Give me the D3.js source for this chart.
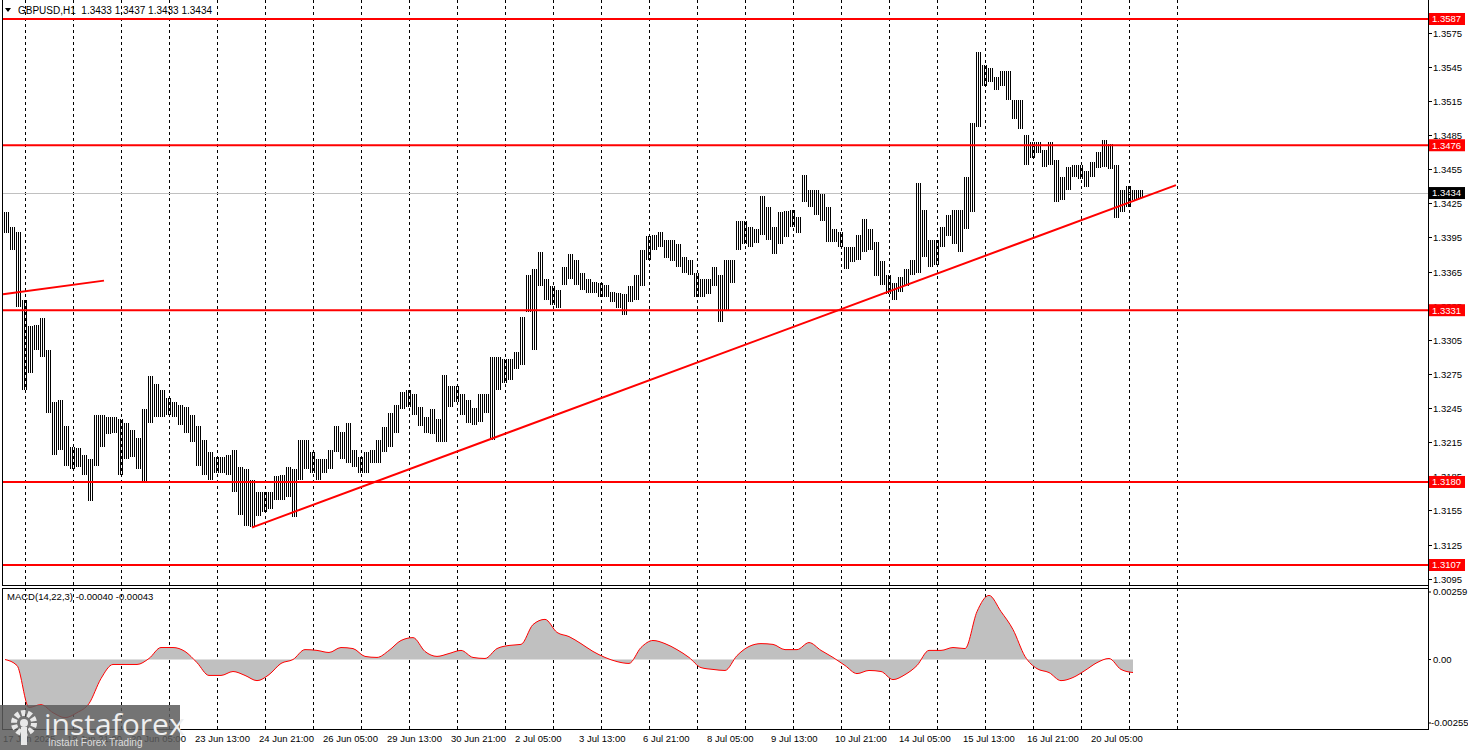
<!DOCTYPE html>
<html><head><meta charset="utf-8">
<script src="https://cdn.jsdelivr.net/npm/d3@7"></script>
<style>
html,body{margin:0;padding:0;background:#fff;}
svg{display:block;font-family:'Liberation Sans',Arial,sans-serif;}
</style>
</head><body>
<svg id="chart" width="1468" height="750"></svg>
<script>
// ---------- DATA (3-hour columns of GBPUSD H1) ----------
const highs = [1.3417,1.3404,1.3400,1.3340,1.3317,1.3318,1.3324,1.3296,1.3250,1.3252,
1.3229,1.3211,1.3210,1.3204,1.3200,1.3239,1.3239,1.3237,1.3237,1.3235,
1.3232,1.3226,1.3219,1.3244,1.3273,1.3266,1.3261,1.3254,1.3250,1.3248,
1.3246,1.3239,1.3229,1.3217,1.3206,1.3202,1.3202,1.3204,1.3208,1.3193,
1.3191,1.3182,1.3171,1.3171,1.3171,1.3185,1.3186,1.3193,1.3191,1.3217,
1.3217,1.3206,1.3200,1.3200,1.3208,1.3229,1.3224,1.3232,1.3208,1.3202,
1.3206,1.3208,1.3217,1.3228,1.3241,1.3248,1.3259,1.3261,1.3257,1.3246,
1.3237,1.3244,1.3235,1.3274,1.3264,1.3264,1.3257,1.3252,1.3245,1.3257,
1.3257,1.3290,1.3290,1.3288,1.3288,1.3294,1.3325,1.3362,1.3367,1.3382,
1.3358,1.3352,1.3349,1.3369,1.3380,1.3375,1.3364,1.3358,1.3356,1.3355,
1.3353,1.3347,1.3346,1.3345,1.3352,1.3362,1.3384,1.3396,1.3397,1.3400,
1.3393,1.3393,1.3389,1.3378,1.3375,1.3364,1.3358,1.3358,1.3369,1.3362,
1.3375,1.3375,1.3409,1.3409,1.3404,1.3402,1.3431,1.3422,1.3404,1.3417,
1.3418,1.3419,1.3413,1.3450,1.3437,1.3437,1.3433,1.3422,1.3402,1.3400,
1.3387,1.3387,1.3397,1.3411,1.3402,1.3391,1.3374,1.3362,1.3355,1.3360,
1.3367,1.3375,1.3443,1.3419,1.3393,1.3393,1.3404,1.3415,1.3419,1.3419,
1.3448,1.3496,1.3558,1.3547,1.3544,1.3536,1.3541,1.3541,1.3516,1.3516,
1.3485,1.3479,1.3479,1.3472,1.3479,1.3463,1.3448,1.3457,1.3459,1.3459,
1.3453,1.3461,1.3470,1.3481,1.3477,1.3459,1.3437,1.3440,1.3437,1.3437];

const lows = [1.3399,1.3384,1.3334,1.3261,1.3276,1.3296,1.3290,1.3241,1.3204,1.3208,
1.3194,1.3191,1.3193,1.3186,1.3163,1.3194,1.3211,1.3222,1.3223,1.3186,
1.3200,1.3202,1.3191,1.3180,1.3232,1.3237,1.3237,1.3239,1.3237,1.3230,
1.3223,1.3215,1.3194,1.3186,1.3182,1.3188,1.3188,1.3186,1.3171,1.3151,
1.3141,1.3140,1.3150,1.3154,1.3156,1.3164,1.3164,1.3167,1.3149,1.3182,
1.3191,1.3188,1.3182,1.3188,1.3191,1.3206,1.3200,1.3197,1.3193,1.3188,
1.3188,1.3197,1.3197,1.3206,1.3211,1.3223,1.3244,1.3246,1.3239,1.3229,
1.3223,1.3222,1.3215,1.3215,1.3246,1.3250,1.3239,1.3232,1.3230,1.3233,
1.3241,1.3217,1.3261,1.3267,1.3270,1.3279,1.3283,1.3329,1.3296,1.3352,
1.3340,1.3336,1.3333,1.3353,1.3358,1.3353,1.3349,1.3346,1.3346,1.3343,
1.3343,1.3338,1.3333,1.3327,1.3338,1.3340,1.3352,1.3375,1.3384,1.3387,
1.3377,1.3374,1.3369,1.3364,1.3362,1.3343,1.3343,1.3345,1.3352,1.3321,
1.3331,1.3355,1.3384,1.3389,1.3387,1.3390,1.3397,1.3393,1.3380,1.3389,
1.3395,1.3404,1.3399,1.3426,1.3422,1.3415,1.3409,1.3391,1.3391,1.3387,
1.3367,1.3373,1.3375,1.3382,1.3384,1.3361,1.3353,1.3345,1.3340,1.3347,
1.3352,1.3362,1.3364,1.3378,1.3369,1.3371,1.3387,1.3396,1.3389,1.3382,
1.3402,1.3417,1.3492,1.3528,1.3532,1.3525,1.3528,1.3516,1.3499,1.3490,
1.3459,1.3465,1.3469,1.3457,1.3459,1.3426,1.3428,1.3437,1.3448,1.3446,
1.3439,1.3448,1.3456,1.3457,1.3455,1.3412,1.3417,1.3422,1.3428,1.3430];

// MACD(14,22,3) main values, one per 6 hours
const macdValues = [0,-0.00023,-0.00184,-0.00173,-0.00204,-0.00223,-0.00204,-0.00169,-0.00073,-0.00019,
-0.00019,-0.00019,0.00004,0.00046,0.00046,0.00031,-0.00012,-0.00061,-0.00061,-0.00046,
-0.00061,-0.00081,-0.00058,-0.00015,0,0.00038,0.00035,0.00027,0.00046,0.00042,
0.00012,0.00008,0.00035,0.00073,0.00084,0.00031,0.00012,0.00023,0.00035,0.00008,
0.00004,0.00042,0.00054,0.00058,0.00134,0.00154,0.00104,0.00088,0.00061,0.00031,
0.00008,-0.00008,-0.00015,0.00046,0.00073,0.00061,0.00038,0.00008,-0.00031,-0.00038,
-0.00042,0.00015,0.00050,0.00061,0.00058,0.00038,0.00038,0.00065,0.00035,0.00008,
-0.00023,-0.00054,-0.00042,-0.00046,-0.00077,-0.00058,-0.00023,0.00035,0.00035,0.00046,
0.00042,0.00184,0.00246,0.00184,0.00115,0.00012,-0.00035,-0.00050,-0.00081,-0.00069,
-0.00042,-0.00012,0.00004,-0.00038,-0.00050];

const levels = [1.3587, 1.3476, 1.3331, 1.3180, 1.3107];
const lastPrice = 1.3434;
const priceTicks = [1.3575,1.3545,1.3515,1.3485,1.3455,1.3425,1.3395,1.3365,1.3335,1.3305,1.3275,1.3245,1.3215,1.3185,1.3155,1.3125,1.3095];
const macdTicks = [0.00259, 0.00, -0.00255];
const timeLabels = ["17 Jun 2025","18 Jun 21:00","20 Jun 05:00","23 Jun 13:00","24 Jun 21:00","26 Jun 05:00","29 Jun 13:00","30 Jun 21:00","2 Jul 05:00","3 Jul 13:00","6 Jul 21:00","8 Jul 05:00","9 Jul 13:00","10 Jul 21:00","14 Jul 05:00","15 Jul 13:00","16 Jul 21:00","20 Jul 05:00"];
// trend lines: bar-hour index and price at each end
const trendHours = [124.5, 586.5];
const trendPrices = [1.3140, 1.3441];
const trend2Hours = [0, 50.5];
const trend2Prices = [1.3345, 1.3357];
const headerText = "GBPUSD,H1  1.3433 1.3437 1.3433 1.3434";
const macdText = "MACD(14,22,3) -0.00040 -0.00043";

// ---------- DRAW ----------
const svg = d3.select("#chart");
const RED = "#ff0000";
const L = 2, R = 1428, mainBottom = 585, macdTop = 588, macdBottom = 729;

const x = d3.scaleLinear().domain([0, 570]).range([3, 1143]);   // hour index -> px
const y = d3.scaleLinear().domain([1.3107, 1.3587]).range([565, 19]);
const ym = d3.scaleLinear().domain([-0.00255, 0.00259]).range([726, 592]);

// stripe pattern: one 1px bar every 2px, like hourly bars
const defs = svg.append("defs");
const pat = defs.append("pattern").attr("id", "bars").attr("patternUnits", "userSpaceOnUse")
  .attr("width", 2).attr("height", 4);
pat.append("rect").attr("x", 0).attr("y", 0).attr("width", 1).attr("height", 4).attr("fill", "#000");

// vertical dashed grid (every 24 bars)
const gridHours = d3.range(11, 590, 24);
[[0, mainBottom], [macdTop, macdBottom]].forEach(([a, b]) => {
  svg.append("g").selectAll("line").data(gridHours).join("line")
    .attr("x1", d => Math.round(x(d)) + 0.5).attr("x2", d => Math.round(x(d)) + 0.5)
    .attr("y1", a).attr("y2", b)
    .attr("stroke", "#000").attr("stroke-width", 1).attr("stroke-dasharray", "3,3");
});

// current price line
svg.append("line").attr("x1", L).attr("x2", R)
  .attr("y1", Math.round(y(lastPrice)) + 0.5).attr("y2", Math.round(y(lastPrice)) + 0.5)
  .attr("stroke", "#c0c0c0").attr("stroke-width", 1);

// price bars (each 3-hour column shown as three 1px hour bars)
svg.append("g").selectAll("rect").data(highs).join("rect")
  .attr("x", (d, i) => Math.round(x(3 * i)))
  .attr("width", (d, i) => Math.round(x(3 * i + 3)) - Math.round(x(3 * i)))
  .attr("y", d => Math.round(y(d)))
  .attr("height", (d, i) => Math.max(2, Math.round(y(lows[i])) - Math.round(y(d))))
  .attr("fill", "url(#bars)").attr("shape-rendering", "crispEdges");

// horizontal levels
svg.append("g").selectAll("line").data(levels).join("line")
  .attr("x1", L).attr("x2", R).attr("y1", d => y(d)).attr("y2", d => y(d))
  .attr("stroke", RED).attr("stroke-width", 2);

// trend lines
const tl = d3.line().x(d => x(d[0])).y(d => y(d[1]));
svg.append("path").attr("d", tl(d3.zip(trendHours, trendPrices)))
  .attr("stroke", RED).attr("stroke-width", 2).attr("fill", "none");
svg.append("path").attr("d", tl(d3.zip(trend2Hours, trend2Prices)))
  .attr("stroke", RED).attr("stroke-width", 2).attr("fill", "none");

// MACD histogram area + signal line
const mx = (d, i) => x(6 * i + 1);
svg.append("path").datum(macdValues)
  .attr("d", d3.area().x(mx).y0(ym(0)).y1(d => ym(d)).curve(d3.curveMonotoneX))
  .attr("fill", "#c0c0c0");
svg.append("path").datum(macdValues)
  .attr("d", d3.line().x(mx).y(d => ym(d)).curve(d3.curveMonotoneX))
  .attr("fill", "none").attr("stroke", RED).attr("stroke-width", 1);

// frames
const frame = svg.append("g").attr("stroke", "#000").attr("stroke-width", 1).attr("shape-rendering", "crispEdges");
frame.append("line").attr("x1", L + 0.5).attr("x2", L + 0.5).attr("y1", 0).attr("y2", mainBottom);
frame.append("line").attr("x1", R + 0.5).attr("x2", R + 0.5).attr("y1", 0).attr("y2", macdBottom);
frame.append("line").attr("x1", L).attr("x2", R).attr("y1", mainBottom + 0.5).attr("y2", mainBottom + 0.5);
frame.append("line").attr("x1", L).attr("x2", R).attr("y1", macdTop + 0.5).attr("y2", macdTop + 0.5);
frame.append("line").attr("x1", L + 0.5).attr("x2", L + 0.5).attr("y1", macdTop).attr("y2", macdBottom);
frame.append("line").attr("x1", L).attr("x2", R + 1).attr("y1", macdBottom + 0.5).attr("y2", macdBottom + 0.5);

// price axis ticks
const axisFont = 9.5;
const pt = svg.append("g").selectAll("g").data(priceTicks).join("g")
  .attr("transform", d => `translate(0,${Math.round(y(d)) + 0.5})`);
pt.append("line").attr("x1", R).attr("x2", R + 4).attr("stroke", "#000");
pt.append("text").attr("x", R + 5).attr("dy", "0.35em").attr("font-size", axisFont)
  .attr("fill", "#000").text(d => d.toFixed(4));

// level labels
const lv = svg.append("g").selectAll("g").data(levels).join("g")
  .attr("transform", d => `translate(0,${y(d)})`);
lv.append("rect").attr("x", R + 1).attr("y", -6).attr("width", 36).attr("height", 12).attr("fill", RED);
lv.append("text").attr("x", R + 4).attr("dy", "0.35em").attr("font-size", axisFont)
  .attr("fill", "#fff").text(d => d.toFixed(4));
// last price label
const lp = svg.append("g").attr("transform", `translate(0,${y(lastPrice)})`);
lp.append("rect").attr("x", R + 1).attr("y", -6).attr("width", 36).attr("height", 12).attr("fill", "#000");
lp.append("text").attr("x", R + 4).attr("dy", "0.35em").attr("font-size", axisFont)
  .attr("fill", "#fff").text(lastPrice.toFixed(4));

// MACD axis
const mt = svg.append("g").selectAll("g").data(macdTicks).join("g")
  .attr("transform", d => `translate(0,${Math.min(ym(d), 723)})`);
mt.append("line").attr("x1", R).attr("x2", R + 3).attr("stroke", "#000");
mt.append("text").attr("x", d => d < 0 ? R + 3 : R + 5).attr("dy", "0.35em").attr("font-size", axisFont)
  .attr("fill", "#000").text(d => d === 0 ? "0.00" : d.toFixed(5));

// time labels (every 32 bars)
svg.append("g").selectAll("text").data(timeLabels).join("text")
  .attr("x", (d, i) => x(32 * i)).attr("y", 742)
  .attr("font-size", axisFont).attr("fill", "#000").text(d => d);

// headers
svg.append("path").attr("d", "M5,8 L11,8 L8,12 Z").attr("fill", "#000");
svg.append("text").attr("x", 18).attr("y", 14).attr("font-size", 10).attr("fill", "#000")
  .attr("xml:space", "preserve").style("white-space", "pre").text(headerText);
svg.append("text").attr("x", 7).attr("y", 600).attr("font-size", 9.5).attr("fill", "#000").text(macdText);

// watermark logo
const logo = svg.append("g");
logo.append("rect").attr("x", 0).attr("y", 705).attr("width", 180).attr("height", 45)
  .attr("fill", "#5c5c5c").attr("opacity", 0.85);
logo.append("circle").attr("cx", 24).attr("cy", 723).attr("r", 10)
  .attr("fill", "none").attr("stroke", "#e8e8e8").attr("stroke-width", 6).attr("stroke-dasharray", "4,2.3");
logo.append("circle").attr("cx", 24).attr("cy", 723).attr("r", 4).attr("fill", "#e8e8e8");
logo.append("rect").attr("x", 21).attr("y", 727).attr("width", 6).attr("height", 18).attr("fill", "#e8e8e8");
logo.append("text").attr("x", 44).attr("y", 735).attr("font-size", 30).attr("fill", "#eeeeee")
  .attr("font-family", "'Open Sans','Liberation Sans',sans-serif").text("instaforex");
logo.append("text").attr("x", 48).attr("y", 746).attr("font-size", 10).attr("fill", "#dddddd")
  .text("Instant Forex Trading");
</script>
</body></html>
